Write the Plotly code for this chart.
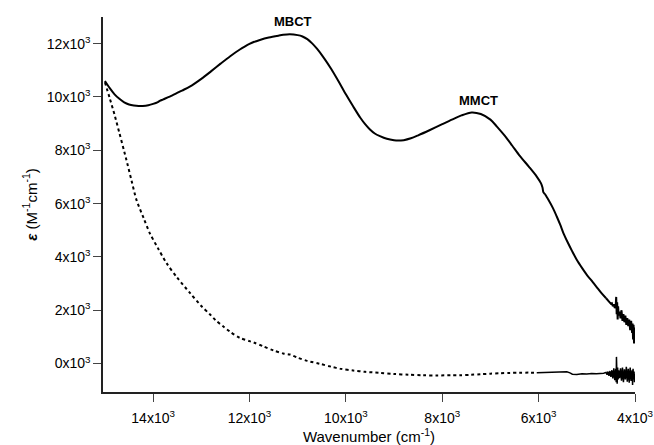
import plotly.graph_objects as go

# Absorption spectrum: molar absorptivity vs. wavenumber
wn_solid = [
    15000, 14900, 14800, 14700, 14600, 14500, 14400, 14300, 14215, 14100, 14000, 13900, 13862, 13800,
    13600, 13400, 13240, 13000, 12800, 12600, 12400, 12200, 12100, 12000, 11900, 11800, 11600,
    11400, 11300, 11163, 11000, 10900, 10800, 10700, 10600, 10450, 10300, 10150, 10000, 9850,
    9700, 9600, 9500, 9400, 9293, 9150, 9000, 8920, 8800, 8650, 8500, 8255, 8000, 7800, 7600, 7389,
    7200, 7000, 6870, 6700, 6550, 6386, 6200, 6039, 5950, 5920, 5900, 5870, 5850, 5800, 5700, 5624,
    5550, 5486, 5400, 5300, 5209, 5100, 5000, 4900, 4863, 4800, 4700, 4600,
    4580, 4560, 4540, 4520, 4500, 4480, 4460, 4440, 4420, 4400, 4390, 4380, 4370, 4360, 4350, 4340,
    4320, 4300, 4280, 4260, 4240, 4220, 4200, 4180, 4160, 4140, 4120, 4100, 4080, 4060, 4050, 4040,
    4030, 4020, 4010, 4000,
]
eps_solid = [
    10600, 10330, 10100, 9930, 9800, 9720, 9680, 9660, 9663, 9690, 9740, 9810, 9850, 9900,
    10060, 10240, 10386, 10680, 10960, 11250, 11530, 11780, 11890, 11990, 12070, 12130, 12230,
    12300, 12330, 12350, 12320, 12270, 12170, 12010, 11810, 11450, 11040, 10580, 10100, 9650,
    9220, 8980, 8780, 8630, 8530, 8430, 8375, 8363, 8380, 8450, 8560, 8760, 8980, 9150, 9310, 9420,
    9360, 9150, 8900, 8540, 8180, 7780, 7380, 7015, 6760, 6600, 6420, 6360, 6300, 6150, 5820, 5517,
    5200, 4895, 4560, 4200, 3895, 3590, 3330, 3110, 3022, 2880, 2650, 2450,
    2400, 2380, 2330, 2290, 2240, 2260, 2150, 2230, 2080, 2180, 2500, 1850, 2300, 1650, 2150, 1800,
    1950, 1700, 2000, 1600, 1850, 1550, 1800, 1450, 1700, 1400, 1650, 1250, 1600, 1150, 1500, 900,
    1450, 750, 1350, 1100,
]

wn_dotted = [
    15000, 14900, 14800, 14700, 14600, 14554, 14450, 14346, 14200, 14070, 13900, 13723, 13500,
    13240, 13000, 12824, 12700, 12548, 12400, 12201, 12000, 11900, 11717, 11500,
    11300, 11162, 11000, 10800, 10539, 10300, 10100, 9848, 9600, 9293, 9000, 8700, 8400, 8100, 7800,
    7629, 7400, 7200, 7000, 6800, 6600, 6400, 6200, 6039,
    5900, 5800, 5700, 5600, 5500, 5415, 5350, 5300, 5208, 5100, 5000, 4900, 4800, 4727, 4650,
    4600, 4580, 4560, 4540, 4520, 4500, 4480, 4460, 4440, 4420, 4400, 4390, 4385, 4380, 4370, 4360,
    4350, 4340, 4320, 4300, 4280, 4260, 4240, 4220, 4200, 4180, 4160, 4140, 4120, 4100, 4080, 4060,
    4050, 4040, 4030, 4020, 4010, 4000,
]
eps_dotted = [
    10550, 9950, 9330, 8650, 7960, 7640, 6880, 6142, 5470, 4895, 4330, 3772, 3220,
    2659, 2160, 1850, 1620, 1397, 1190, 963, 840, 780, 650, 490,
    380, 337, 220, 100, -10, -120, -200, -262, -310, -348, -390, -420, -440, -445, -440,
    -438, -420, -400, -380, -365, -350, -345, -340, -348,
    -340, -330, -330, -320, -320, -311, -350, -400, -412, -380, -390, -370, -380, -375, -360,
    -330, -420, -300, -460, -280, -500, -250, -560, -180, -620, -200, -700, 250, -100, -760, -150,
    -600, -250, -550, -180, -640, -150, -700, -220, -600, -120, -680, -200, -720, -150, -650, -250,
    -800, -200, -600, -300, -700, -400,
]

x_ticks = [14000, 12000, 10000, 8000, 6000, 4000]
x_tick_text = ["14x10<sup>3</sup>", "12x10<sup>3</sup>", "10x10<sup>3</sup>",
               "8x10<sup>3</sup>", "6x10<sup>3</sup>", "4x10<sup>3</sup>"]
y_ticks = [0, 2000, 4000, 6000, 8000, 10000, 12000]
y_tick_text = ["0x10<sup>3</sup>", "2x10<sup>3</sup>", "4x10<sup>3</sup>", "6x10<sup>3</sup>",
               "8x10<sup>3</sup>", "10x10<sup>3</sup>", "12x10<sup>3</sup>"]

band_labels = ["MBCT", "MMCT"]
band_x = [11100, 7258]
band_y = [12846, 9850]

FONT = "Liberation Sans, Arial, Helvetica, sans-serif"

# split both spectra where the noisy low-energy tail begins
s_split = wn_solid.index(4600) + 1
d_split = wn_dotted.index(6039) + 1

fig = go.Figure()
fig.add_trace(go.Scatter(
    x=wn_solid[:s_split], y=eps_solid[:s_split], mode="lines",
    line=dict(color="black", width=2, shape="spline", smoothing=0.8), showlegend=False,
))
fig.add_trace(go.Scatter(
    x=wn_solid[s_split - 1:], y=eps_solid[s_split - 1:], mode="lines",
    line=dict(color="black", width=2), showlegend=False,
))
fig.add_trace(go.Scatter(
    x=wn_dotted[:d_split], y=eps_dotted[:d_split], mode="lines",
    line=dict(color="black", width=2, dash="dot", shape="spline", smoothing=0.8), showlegend=False,
))
fig.add_trace(go.Scatter(
    x=wn_dotted[d_split - 1:], y=eps_dotted[d_split - 1:], mode="lines",
    line=dict(color="black", width=1.5), showlegend=False,
))

for label, bx, by in zip(band_labels, band_x, band_y):
    fig.add_annotation(x=bx, y=by, text=f"<b>{label}</b>", showarrow=False,
                       font=dict(family=FONT, size=13, color="black"),
                       xanchor="center", yanchor="middle")

fig.update_layout(
    width=654, height=445,
    margin=dict(l=103, r=19, t=17, b=53, autoexpand=False),
    plot_bgcolor="white", paper_bgcolor="white",
    font=dict(family=FONT, size=14, color="black"),
)
fig.update_xaxes(
    range=[15040, 4000], tickvals=x_ticks, ticktext=x_tick_text, automargin=False,
    showgrid=False, zeroline=False, showline=True, linecolor="#222", linewidth=1.5,
    ticks="outside", ticklen=8, tickcolor="#444", tickwidth=1,
    tickfont=dict(family=FONT, size=14), ticklabelstandoff=4,
    title=dict(text="Wavenumber (cm<sup>-1</sup>)", font=dict(family=FONT, size=15), standoff=2),
)
fig.update_yaxes(
    range=[-1067, 13000], tickvals=y_ticks, ticktext=y_tick_text, automargin=False,
    showgrid=False, zeroline=False, showline=True, linecolor="#222", linewidth=1.5,
    ticks="outside", ticklen=8, tickcolor="#444", tickwidth=1,
    tickfont=dict(family=FONT, size=14),
    title=dict(text="<b><i>ε</i></b> (M<sup>-1</sup>cm<sup>-1</sup>)",
               font=dict(family=FONT, size=15), standoff=6),
)

fig.write_html("out.html")
